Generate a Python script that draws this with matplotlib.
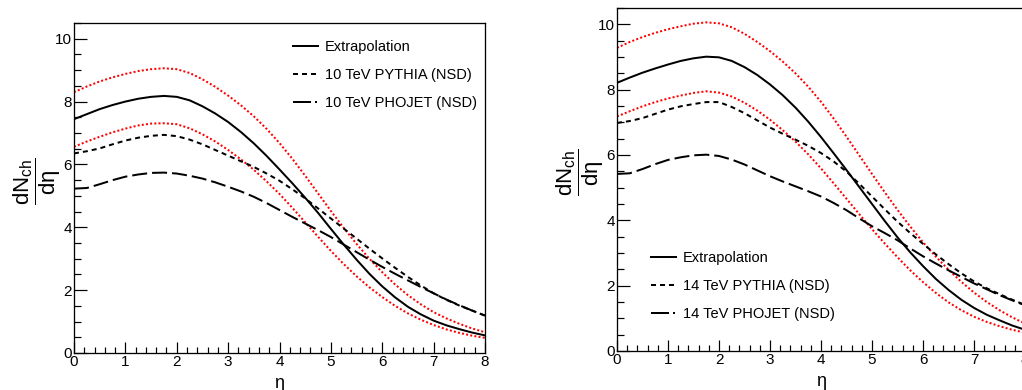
import matplotlib
matplotlib.use('Agg')
import matplotlib.pyplot as plt
from matplotlib.lines import Line2D
from matplotlib.ticker import MultipleLocator

plt.rcParams['font.family'] = ['Liberation Sans', 'DejaVu Sans']
plt.rcParams['mathtext.fontset'] = 'custom'
plt.rcParams['mathtext.rm'] = 'Liberation Sans'
plt.rcParams['mathtext.it'] = 'Liberation Sans'
plt.rcParams['mathtext.bf'] = 'Liberation Sans:bold'
plt.rcParams['lines.scale_dashes'] = False

# ---------------- data ----------------
eta = [0.0, 0.25, 0.5, 0.75, 1.0, 1.25, 1.5, 1.75, 2.0, 2.25, 2.5, 2.75, 3.0,
       3.25, 3.5, 3.75, 4.0, 4.25, 4.5, 4.75, 5.0, 5.25, 5.5, 5.75, 6.0,
       6.25, 6.5, 6.75, 7.0, 7.25, 7.5, 7.75, 8.0]

# 10 TeV panel
extrap_10 = [7.44, 7.60, 7.76, 7.89, 8.00, 8.09, 8.15, 8.18, 8.15, 8.04, 7.85, 7.62, 7.35,
             7.03, 6.67, 6.27, 5.84, 5.40, 4.94, 4.46, 3.95, 3.45, 2.97, 2.52, 2.12,
             1.77, 1.47, 1.23, 1.03, 0.88, 0.76, 0.65, 0.56]
band_hi_10 = [8.30, 8.48, 8.64, 8.77, 8.88, 8.97, 9.03, 9.06, 9.03, 8.91, 8.71, 8.47, 8.19,
              7.88, 7.53, 7.13, 6.68, 6.18, 5.64, 5.08, 4.52, 3.98, 3.47, 3.00, 2.57,
              2.18, 1.84, 1.55, 1.30, 1.10, 0.93, 0.78, 0.66]
band_lo_10 = [6.56, 6.73, 6.88, 7.02, 7.14, 7.24, 7.30, 7.31, 7.28, 7.15, 6.96, 6.73, 6.46,
              6.16, 5.83, 5.46, 5.06, 4.62, 4.16, 3.70, 3.25, 2.83, 2.44, 2.09, 1.78,
              1.50, 1.26, 1.06, 0.89, 0.75, 0.64, 0.55, 0.48]
pythia_10 = [6.35, 6.42, 6.51, 6.64, 6.76, 6.85, 6.91, 6.94, 6.90, 6.79, 6.64, 6.46, 6.28,
             6.10, 5.92, 5.71, 5.48, 5.21, 4.92, 4.60, 4.28, 3.96, 3.64, 3.32, 3.01,
             2.71, 2.42, 2.15, 1.90, 1.69, 1.51, 1.35, 1.19]
phojet_10 = [5.23, 5.25, 5.37, 5.50, 5.61, 5.68, 5.73, 5.74, 5.71, 5.64, 5.55, 5.43, 5.29,
             5.14, 4.97, 4.77, 4.55, 4.33, 4.12, 3.91, 3.69, 3.45, 3.21, 2.97, 2.74,
             2.52, 2.31, 2.10, 1.90, 1.70, 1.52, 1.35, 1.19]

# 14 TeV panel
extrap_14 = [8.21, 8.37, 8.52, 8.65, 8.77, 8.88, 8.96, 9.01, 8.99, 8.88, 8.69, 8.45, 8.16,
             7.83, 7.45, 7.02, 6.55, 6.05, 5.54, 5.02, 4.50, 3.98, 3.48, 3.02, 2.60,
             2.21, 1.87, 1.57, 1.32, 1.11, 0.94, 0.78, 0.65]
band_hi_14 = [9.28, 9.46, 9.61, 9.74, 9.85, 9.94, 10.02, 10.06, 10.03, 9.91, 9.71, 9.46, 9.18,
              8.86, 8.50, 8.09, 7.63, 7.11, 6.56, 5.99, 5.42, 4.86, 4.32, 3.81, 3.33,
              2.89, 2.49, 2.12, 1.79, 1.50, 1.25, 1.03, 0.84]
band_lo_14 = [7.18, 7.34, 7.49, 7.62, 7.73, 7.82, 7.90, 7.95, 7.91, 7.79, 7.60, 7.36, 7.08,
              6.76, 6.41, 6.02, 5.59, 5.13, 4.66, 4.19, 3.73, 3.29, 2.87, 2.47, 2.11,
              1.78, 1.49, 1.25, 1.05, 0.89, 0.76, 0.65, 0.56]
pythia_14 = [6.98, 7.04, 7.13, 7.26, 7.39, 7.49, 7.56, 7.62, 7.62, 7.47, 7.28, 7.06, 6.84,
             6.65, 6.47, 6.28, 6.06, 5.80, 5.49, 5.12, 4.73, 4.34, 3.96, 3.61, 3.28,
             2.96, 2.66, 2.38, 2.13, 1.92, 1.74, 1.57, 1.41]
phojet_14 = [5.42, 5.44, 5.57, 5.72, 5.85, 5.93, 5.99, 6.01, 5.97, 5.86, 5.71, 5.53, 5.35,
             5.19, 5.04, 4.89, 4.73, 4.53, 4.31, 4.06, 3.82, 3.61, 3.39, 3.14, 2.90,
             2.68, 2.47, 2.27, 2.07, 1.89, 1.71, 1.55, 1.40]

labels_10 = ['Extrapolation', '10 TeV PYTHIA (NSD)', '10 TeV PHOJET (NSD)']
labels_14 = ['Extrapolation', '14 TeV PYTHIA (NSD)', '14 TeV PHOJET (NSD)']

# ---------------- styling ----------------
W, H = 1022, 390
DPI = 100
PX = 72.0 / DPI  # points per pixel

LW = 2.0 * PX
DOT = (0, (2 * PX, 2.2 * PX))
SHORT = (0, (5 * PX, 4 * PX))
LONG = (0, (15 * PX, 5 * PX))
LEG_LONG = (0, (18 * PX, 4 * PX, 2 * PX, 10 * PX))
RED = '#ff0000'

fig = plt.figure(figsize=(W / DPI, H / DPI), dpi=DPI)


def make_axes(l, r, t, b):
    return fig.add_axes([l / W, 1 - b / H, (r - l) / W, (b - t) / H])


def draw_panel(ax, ext, hi, lo, py, ph, labels, leg_xy):
    ax.plot(eta, hi, color=RED, lw=LW, linestyle=DOT)
    ax.plot(eta, lo, color=RED, lw=LW, linestyle=DOT)
    ax.plot(eta, ext, color='black', lw=LW, linestyle='-')
    ax.plot(eta, py, color='black', lw=LW, linestyle=SHORT)
    ax.plot(eta, ph, color='black', lw=LW, linestyle=LONG)

    ax.set_xlim(0, 8)
    ax.set_ylim(0, 10.5)
    ax.xaxis.set_major_locator(MultipleLocator(1))
    ax.xaxis.set_minor_locator(MultipleLocator(0.2))
    ax.yaxis.set_major_locator(MultipleLocator(2))
    ax.yaxis.set_minor_locator(MultipleLocator(0.5))
    ax.tick_params(which='both', direction='in', top=False, right=False,
                   width=1.2 * PX, color='black')
    ax.tick_params(axis='x', which='major', length=11 * PX, labelsize=11, pad=1.5)
    ax.tick_params(axis='x', which='minor', length=6 * PX)
    ax.tick_params(axis='y', which='major', length=13 * PX, labelsize=11, pad=1.5)
    ax.tick_params(axis='y', which='minor', length=7 * PX)
    for s in ax.spines.values():
        s.set_linewidth(1.3 * PX)

    ax.set_xlabel('η', fontsize=13, labelpad=4)
    ax.set_ylabel(r'$\dfrac{dN_{ch}}{d\eta}$', fontsize=16)
    ax.yaxis.set_label_coords(-0.027, 0.52)

    handles = [Line2D([], [], color='black', lw=LW, linestyle='-'),
               Line2D([], [], color='black', lw=LW, linestyle=SHORT),
               Line2D([], [], color='black', lw=LW, linestyle=LEG_LONG)]
    ax.legend(handles, labels, loc='upper left',
              bbox_to_anchor=(leg_xy[0] / W, 1 - leg_xy[1] / H),
              bbox_transform=fig.transFigure, frameon=False, fontsize=10.5,
              handlelength=1.7, handletextpad=0.5, labelspacing=0.96,
              borderpad=0, borderaxespad=0)


ax1 = make_axes(74, 485, 23, 353)
draw_panel(ax1, extrap_10, band_hi_10, band_lo_10, pythia_10, phojet_10,
           labels_10, (293, 40))

ax2 = make_axes(617, 1025, 8, 351)
draw_panel(ax2, extrap_14, band_hi_14, band_lo_14, pythia_14, phojet_14,
           labels_14, (651, 251))

fig.savefig('out.png', dpi=DPI)
